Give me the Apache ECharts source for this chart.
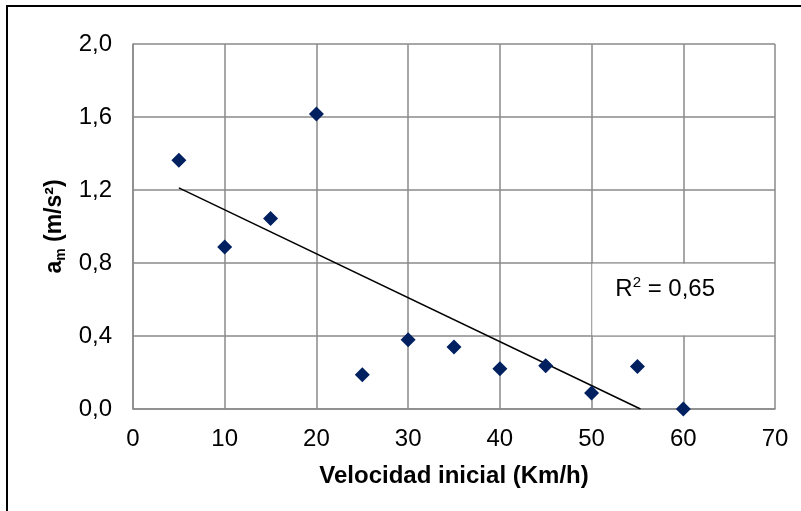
<!DOCTYPE html>
<html>
<head>
<meta charset="utf-8">
<script src="https://cdn.jsdelivr.net/npm/echarts@6/dist/echarts.min.js"></script>
<style>html,body{margin:0;padding:0;background:#fff}#c{width:801px;height:511px}</style>
</head>
<body>
<div id="c"></div>
<script>
// Data
const velocidad = [5, 10, 15, 20, 25, 30, 35, 40, 45, 50, 55, 60];
const aceleracion = [1.363, 0.887, 1.044, 1.616, 0.188, 0.379, 0.340, 0.220, 0.237, 0.087, 0.233, 0.000];
const xTicks = [0, 10, 20, 30, 40, 50, 60, 70];
const yTicks = [0.0, 0.4, 0.8, 1.2, 1.6, 2.0];
const xTitle = 'Velocidad inicial (Km/h)';

// linear trendline (least squares) computed from the data
const n = velocidad.length;
const mx = velocidad.reduce((a, b) => a + b, 0) / n;
const my = aceleracion.reduce((a, b) => a + b, 0) / n;
let sxy = 0, sxx = 0;
for (let i = 0; i < n; i++) { sxy += (velocidad[i] - mx) * (aceleracion[i] - my); sxx += (velocidad[i] - mx) ** 2; }
const slope = sxy / sxx, intercept = my - slope * mx;
const xStart = velocidad[0];
const xEnd = Math.min(velocidad[n - 1], -intercept / slope);
const trend = [[xStart, intercept + slope * xStart], [xEnd, intercept + slope * xEnd]];

const FONT = '"Liberation Sans", Arial, sans-serif';
const GRID = '#8a8a8a';
const FS = 24;

const chart = echarts.init(document.getElementById('c'), null, { renderer: 'canvas' });
chart.setOption({
  backgroundColor: '#fff',
  animation: false,
  graphic: [{
    type: 'rect', silent: true, z: -1,
    shape: { x: 7, y: 6, width: 820, height: 530 },
    style: { fill: 'none', stroke: '#000', lineWidth: 2 }
  }],
  grid: { left: 133, right: 26, top: 44, height: 365, containLabel: false },
  xAxis: {
    type: 'value', min: xTicks[0], max: xTicks[xTicks.length - 1], interval: 10,
    name: xTitle, nameLocation: 'middle', nameGap: 55,
    nameTextStyle: { fontFamily: FONT, fontSize: FS, fontWeight: 'bold', color: '#000' },
    axisLine: { show: true, lineStyle: { color: GRID, width: 1.5 } },
    axisTick: { show: false },
    axisLabel: { fontFamily: FONT, fontSize: FS, color: '#000', margin: 18 },
    splitLine: { show: true, lineStyle: { color: GRID, width: 1.5 } }
  },
  yAxis: {
    type: 'value', min: yTicks[0], max: yTicks[yTicks.length - 1], interval: 0.4,
    name: '{t|a}{s|m}{t| (m/s²)}', nameLocation: 'middle', nameGap: 60, nameRotate: 90,
    nameTextStyle: {
      fontFamily: FONT, fontSize: FS, fontWeight: 'bold', color: '#000',
      rich: {
        t: { fontFamily: FONT, fontSize: 23, fontWeight: 'bold', color: '#000', lineHeight: 26, verticalAlign: 'middle' },
        s: { fontFamily: FONT, fontSize: 14, fontWeight: 'bold', color: '#000', lineHeight: 26, verticalAlign: 'bottom' }
      }
    },
    axisLine: { show: true, lineStyle: { color: GRID, width: 1.5 } },
    axisTick: { show: false },
    axisLabel: {
      fontFamily: FONT, fontSize: FS, color: '#000', margin: 21,
      formatter: v => v.toFixed(1).replace('.', ',')
    },
    splitLine: { show: true, lineStyle: { color: GRID, width: 1.5 } }
  },
  series: [
    {
      type: 'line', data: trend, symbol: 'none', silent: true, z: 3,
      lineStyle: { color: '#000', width: 1.5 },
      markArea: {
        silent: true,
        itemStyle: { color: '#fff', opacity: 1 },
        label: {
          show: true, position: 'insideLeft', distance: 23, offset: [0, -10],
          formatter: '{t|R}{p|2}{t| = 0,65}',
          rich: {
            t: { fontFamily: FONT, fontSize: FS, color: '#000', lineHeight: 28, verticalAlign: 'middle' },
            p: { fontFamily: FONT, fontSize: 15, color: '#000', lineHeight: 28, verticalAlign: 'top' }
          }
        },
        data: [[{ coord: [50.08, 0.404] }, { coord: [69.9, 0.796] }]]
      }
    },
    {
      type: 'scatter', z: 4,
      data: velocidad.map((x, i) => [x, aceleracion[i]]),
      symbol: 'diamond', symbolSize: 15,
      itemStyle: { color: '#002060', opacity: 1 }
    }
  ]
});
</script>
</body>
</html>
